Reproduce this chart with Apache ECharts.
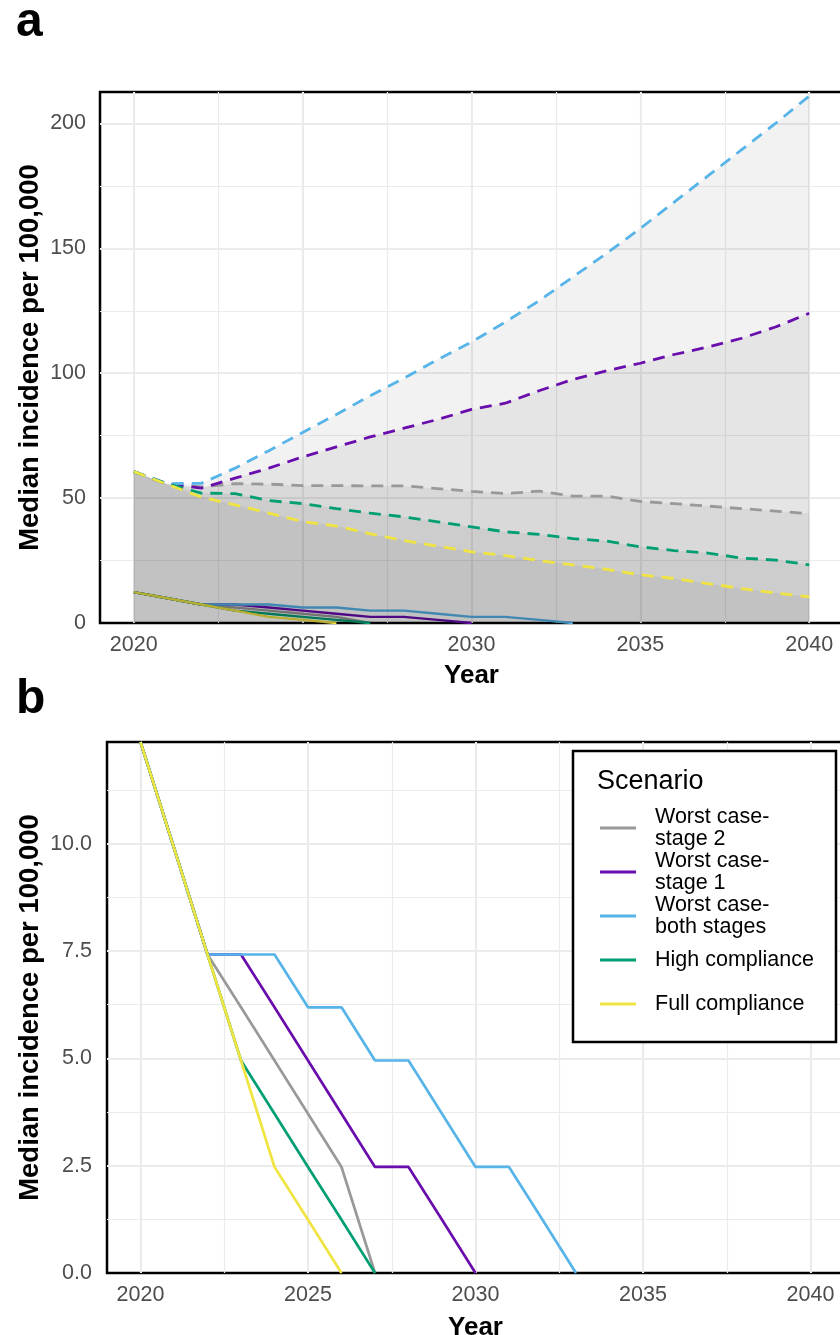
<!DOCTYPE html>
<html><head><meta charset="utf-8">
<script src="https://cdn.jsdelivr.net/npm/echarts@6/dist/echarts.min.js"></script>
<style>html,body{margin:0;padding:0;background:#fff}#c{width:840px;height:1335px}</style>
</head><body><div id="c"></div>
<script>
// ---------- data ----------
const years = [2020,2021,2022,2023,2024,2025,2026,2027,2028,2029,2030,2031,2032,2033,2034,2035,2036,2037,2038,2039,2040];
const scenarioNames = ['Worst case-stage 2','Worst case-stage 1','Worst case-both stages','High compliance','Full compliance'];
const legendLabels = ['Worst case-\nstage 2','Worst case-\nstage 1','Worst case-\nboth stages','High compliance','Full compliance'];
const colors = ['#999999','#6A0DAD','#56B4E9','#009E73','#F0E442'];
const xTickLabels = [2020,2025,2030,2035,2040];

// solid lines (panel a bottom and panel b)
const solidStage2 = [12.37,9.9,7.42,6.19,4.95,3.71,2.47,0,null,null,null,null,null,null,null,null,null,null,null,null,null];
const solidStage1 = [12.37,9.9,7.42,7.42,6.19,4.95,3.71,2.47,2.47,1.24,0,null,null,null,null,null,null,null,null,null,null];
const solidBoth   = [12.37,9.9,7.42,7.42,7.42,6.19,6.19,4.95,4.95,3.71,2.47,2.47,1.24,0,null,null,null,null,null,null,null];
const solidHigh   = [12.37,9.9,7.42,4.95,3.71,2.47,1.24,0,null,null,null,null,null,null,null,null,null,null,null,null,null];
const solidFull   = [12.37,9.9,7.42,4.95,2.47,1.24,0,null,null,null,null,null,null,null,null,null,null,null,null,null,null];

// dashed lines (panel a)
const dashStage2 = [60.6,55.7,54.5,55.8,55.6,55,55,54.9,54.9,53.8,52.7,51.8,52.8,50.8,50.8,48.7,47.8,46.8,45.8,44.8,43.8];
const dashStage1 = [60.6,55.6,54,58,62,66.5,70.5,74.5,78,81.5,85.5,88,93,97.5,101,104,107.5,110.5,114,118.5,124];
const dashBoth   = [60.6,55.8,55.9,62,69,76.3,83.5,91,98,105.5,112.5,120.5,129,138.5,148,158,168.5,179,189.5,200,211];
const dashHigh   = [60.6,55.7,52,51.8,49,47.8,45.8,44,42.5,40.5,38.5,36.5,35.5,33.8,32.8,30.5,29,28,26,25.2,23.3];
const dashFull   = [60.6,55.5,50.4,47.3,44,40.6,38.8,35.7,33,30.8,28.5,27,25,23.3,21.5,19.3,17.8,15.8,13.8,12,10.5];

const solidSets = [solidStage2, solidStage1, solidBoth, solidHigh, solidFull];
const dashSets  = [dashStage2, dashStage1, dashBoth, dashHigh, dashFull];

// ---------- build ----------
const FONT = 'Liberation Sans';
const pairs = arr => years.map((y, i) => [y, arr[i]]);
const gridLine = w => ({ show: true, showMinLine: false, showMaxLine: false, lineStyle: { color: '#ebebeb', width: w } });

function xAxes(grid, nameGap) {
  return [
    { type: 'value', gridIndex: grid, min: 2019, max: 2041, minInterval: 5, maxInterval: 5,
      axisLine: { show: false }, axisTick: { show: false },
      axisLabel: { showMinLabel: false, showMaxLabel: false, margin: 11, color: '#4d4d4d', fontSize: 21.5, fontFamily: FONT,
        formatter: v => (xTickLabels.indexOf(v) >= 0 ? String(v) : '') },
      splitLine: gridLine(2),
      name: 'Year', nameLocation: 'middle', nameGap: nameGap, nameMoveOverlap: false,
      nameTextStyle: { fontSize: 26, fontWeight: 'bold', color: '#000', fontFamily: FONT } },
    { type: 'value', gridIndex: grid, min: 2019, max: 2041, minInterval: 2.5, maxInterval: 2.5,
      axisLine: { show: false }, axisTick: { show: false }, axisLabel: { show: false },
      splitLine: gridLine(1.2) }
  ];
}
function yAxes(grid, max, major, minor, dec, nameGap, margin) {
  return [
    { type: 'value', gridIndex: grid, min: 0, max: max, interval: major,
      axisLine: { show: false }, axisTick: { show: false },
      axisLabel: { showMaxLabel: false, margin: margin, color: '#4d4d4d', fontSize: 21.5, fontFamily: FONT,
        formatter: v => v.toFixed(dec) },
      splitLine: gridLine(2),
      name: 'Median incidence per 100,000', nameLocation: 'middle', nameGap: nameGap, nameMoveOverlap: false,
      nameTextStyle: { fontSize: 27.5, fontWeight: 'bold', color: '#000', fontFamily: FONT } },
    { type: 'value', gridIndex: grid, min: 0, max: max, interval: minor,
      axisLine: { show: false }, axisTick: { show: false }, axisLabel: { show: false },
      splitLine: gridLine(1.2) }
  ];
}

const series = [];
// panel a solid lines (beneath shading)
solidSets.forEach((d, i) => series.push({
  name: scenarioNames[i], type: 'line', xAxisIndex: 0, yAxisIndex: 0, data: pairs(d),
  symbol: 'none', z: 1, silent: true, lineStyle: { color: colors[i], width: 2.4 }, itemStyle: { color: colors[i] }
}));
// panel a shading under totals
dashSets.forEach((d, i) => series.push({
  name: scenarioNames[i] + ' area', type: 'line', xAxisIndex: 0, yAxisIndex: 0, data: pairs(d),
  symbol: 'none', z: 2, silent: true, lineStyle: { width: 0, opacity: 0 },
  areaStyle: { color: '#000', opacity: 0.05 }
}));
// panel a dashed totals
dashSets.forEach((d, i) => series.push({
  name: scenarioNames[i] + ' total', type: 'line', xAxisIndex: 0, yAxisIndex: 0, data: pairs(d),
  symbol: 'none', z: 3, silent: true, lineStyle: { color: colors[i], width: 2.8, type: [12, 8] }
}));
// panel b solid lines
solidSets.forEach((d, i) => series.push({
  name: scenarioNames[i], type: 'line', xAxisIndex: 2, yAxisIndex: 2, data: pairs(d),
  symbol: 'none', z: 4, silent: true, lineStyle: { color: colors[i], width: 2.7 }, itemStyle: { color: colors[i] }
}));

const legendData = scenarioNames.map((n, i) => {
  const twoLine = legendLabels[i].indexOf('\n') >= 0;
  return { name: n, textStyle: { padding: twoLine ? [0, 0, 0, 14] : [11, 0, 11, 14] } };
});

const option = {
  animation: false,
  backgroundColor: '#fff',
  grid: [
    { left: 100, top: 92, width: 743, height: 531, show: true, borderColor: '#000', borderWidth: 2.5, backgroundColor: 'transparent', outerBoundsMode: 'none', containLabel: false },
    { left: 107, top: 742, width: 737, height: 531, show: true, borderColor: '#000', borderWidth: 2.5, backgroundColor: 'transparent', outerBoundsMode: 'none', containLabel: false }
  ],
  xAxis: [...xAxes(0, 40), ...xAxes(1, 42)],
  yAxis: [...yAxes(0, 212.6, 50, 25, 0, 56, 14), ...yAxes(1, 12.37, 2.5, 1.25, 1, 63, 15)],
  legend: {
    data: legendData, orient: 'vertical', left: 600, top: 806,
    icon: 'rect', itemWidth: 36, itemHeight: 3, itemGap: 0, padding: 0, z: 1000, selectedMode: false,
    formatter: n => legendLabels[scenarioNames.indexOf(n)],
    textStyle: { fontSize: 21.5, fontFamily: FONT, color: '#000', lineHeight: 22, padding: [0, 0, 0, 14] }
  },
  graphic: [
    { type: 'rect', z: 100, shape: { x: 573, y: 751, width: 263, height: 291 },
      style: { fill: '#fff', stroke: '#000', lineWidth: 2.5 } },
    { type: 'text', z: 101, x: 597, y: 782, style: { text: 'Scenario', fontSize: 27, fontFamily: FONT, fill: '#000', verticalAlign: 'middle' } },
    { type: 'text', z: 101, x: 16, y: 23, style: { text: 'a', fontSize: 48, fontWeight: 'bold', fontFamily: FONT, fill: '#000', verticalAlign: 'middle' } },
    { type: 'text', z: 101, x: 16, y: 700, style: { text: 'b', fontSize: 48, fontWeight: 'bold', fontFamily: FONT, fill: '#000', verticalAlign: 'middle' } }
  ],
  series: series
};
const chart = echarts.init(document.getElementById('c'), null, { renderer: 'canvas' });
chart.setOption(option);
</script>
</body></html>
